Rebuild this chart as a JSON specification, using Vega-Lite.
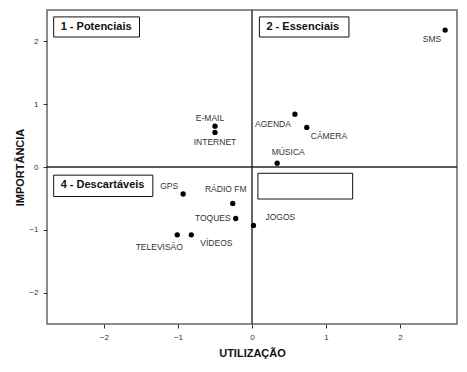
{
  "$schema": "https://vega.github.io/schema/vega-lite/v6.json",
  "width": 410,
  "height": 314,
  "autosize": {"type": "none"},
  "padding": {"left": 47, "top": 10, "right": 10, "bottom": 48},
  "background": "white",
  "config": {
    "view": {"stroke": "#666", "strokeWidth": 1.5},
    "font": "Liberation Sans",
    "text": {"fontSize": 8.5, "color": "#333"},
    "axis": {"grid": false, "domain": false, "tickColor": "#333", "tickSize": 4, "labelFont": "Liberation Sans", "labelFontSize": 8, "labelColor": "#333", "titleFont": "Liberation Sans", "titleFontWeight": "bold", "titleFontSize": 11, "titleColor": "#111"}
  },
  "datasets": {
    "pts": [
      {"name": "SMS", "u": 2.61, "i": 2.18},
      {"name": "E-MAIL", "u": -0.50, "i": 0.65},
      {"name": "INTERNET", "u": -0.50, "i": 0.55},
      {"name": "AGENDA", "u": 0.58, "i": 0.84},
      {"name": "CÂMERA", "u": 0.74, "i": 0.63},
      {"name": "MÚSICA", "u": 0.34, "i": 0.06},
      {"name": "GPS", "u": -0.93, "i": -0.43},
      {"name": "RÁDIO FM", "u": -0.26, "i": -0.58},
      {"name": "TOQUES", "u": -0.22, "i": -0.82},
      {"name": "JOGOS", "u": 0.02, "i": -0.93},
      {"name": "TELEVISÃO", "u": -1.01, "i": -1.08},
      {"name": "VÍDEOS", "u": -0.82, "i": -1.08}
    ],
    "boxes": [
      {"label": "1 - Potenciais", "x1": -2.68, "x2": -1.52, "y1": 2.39, "y2": 2.07},
      {"label": "2 - Essenciais", "x1": 0.10, "x2": 1.31, "y1": 2.39, "y2": 2.07},
      {"label": "4 - Descartáveis", "x1": -2.68, "x2": -1.34, "y1": -0.13, "y2": -0.47},
      {"label": "", "x1": 0.08, "x2": 1.36, "y1": -0.10, "y2": -0.51}
    ]
  },
  "layer": [
    {
      "data": {"name": "boxes"},
      "mark": {"type": "rect", "fill": "white", "stroke": "#111", "strokeWidth": 1},
      "encoding": {
        "x": {"field": "x1", "type": "quantitative", "scale": {"domain": [-2.77, 2.77], "nice": false, "zero": false},
              "axis": {"values": [-2, -1, 0, 1, 2], "format": "d", "title": "UTILIZAÇÃO", "labelPadding": 5, "titlePadding": 6}},
        "x2": {"field": "x2"},
        "y": {"field": "y1", "type": "quantitative", "scale": {"domain": [-2.5, 2.5], "nice": false, "zero": false},
              "axis": {"values": [-2, -1, 0, 1, 2], "format": "d", "title": "IMPORTÂNCIA", "labelPadding": 5, "titlePadding": 3}},
        "y2": {"field": "y2"}
      }
    },
    {
      "data": {"name": "boxes"},
      "mark": {"type": "text", "align": "left", "baseline": "middle", "dx": 7, "dy": 10, "fontSize": 11, "fontWeight": "bold", "color": "#111"},
      "encoding": {
        "x": {"field": "x1", "type": "quantitative"},
        "y": {"field": "y1", "type": "quantitative"},
        "text": {"field": "label"}
      }
    },
    {
      "data": {"values": [{"v": 0}]},
      "mark": {"type": "rule", "color": "#333", "strokeWidth": 1.5},
      "encoding": {"x": {"field": "v", "type": "quantitative"}}
    },
    {
      "data": {"values": [{"v": 0}]},
      "mark": {"type": "rule", "color": "#222", "strokeWidth": 1.5},
      "encoding": {"y": {"field": "v", "type": "quantitative"}}
    },
    {
      "data": {"name": "pts"},
      "layer": [
        {"mark": {"type": "circle", "size": 28, "color": "black", "opacity": 1}},
        {"transform": [{"filter": "datum.name == 'SMS'"}], "mark": {"type": "text", "align": "right", "baseline": "middle", "dx": -4, "dy": 9}},
        {"transform": [{"filter": "datum.name == 'E-MAIL'"}], "mark": {"type": "text", "align": "center", "baseline": "middle", "dx": -5, "dy": -8}},
        {"transform": [{"filter": "datum.name == 'INTERNET'"}], "mark": {"type": "text", "align": "center", "baseline": "middle", "dx": 0, "dy": 10}},
        {"transform": [{"filter": "datum.name == 'AGENDA'"}], "mark": {"type": "text", "align": "right", "baseline": "middle", "dx": -4, "dy": 10}},
        {"transform": [{"filter": "datum.name == 'CÂMERA'"}], "mark": {"type": "text", "align": "left", "baseline": "middle", "dx": 4, "dy": 9}},
        {"transform": [{"filter": "datum.name == 'MÚSICA'"}], "mark": {"type": "text", "align": "center", "baseline": "middle", "dx": 11, "dy": -11}},
        {"transform": [{"filter": "datum.name == 'GPS'"}], "mark": {"type": "text", "align": "right", "baseline": "middle", "dx": -5, "dy": -8}},
        {"transform": [{"filter": "datum.name == 'RÁDIO FM'"}], "mark": {"type": "text", "align": "center", "baseline": "middle", "dx": -7, "dy": -14}},
        {"transform": [{"filter": "datum.name == 'TOQUES'"}], "mark": {"type": "text", "align": "right", "baseline": "middle", "dx": -5, "dy": 0}},
        {"transform": [{"filter": "datum.name == 'JOGOS'"}], "mark": {"type": "text", "align": "left", "baseline": "middle", "dx": 12, "dy": -8}},
        {"transform": [{"filter": "datum.name == 'TELEVISÃO'"}], "mark": {"type": "text", "align": "center", "baseline": "middle", "dx": -18, "dy": 12}},
        {"transform": [{"filter": "datum.name == 'VÍDEOS'"}], "mark": {"type": "text", "align": "left", "baseline": "middle", "dx": 9, "dy": 8}}
      ],
      "encoding": {
        "x": {"field": "u", "type": "quantitative"},
        "y": {"field": "i", "type": "quantitative"},
        "text": {"field": "name"}
      }
    }
  ]
}
